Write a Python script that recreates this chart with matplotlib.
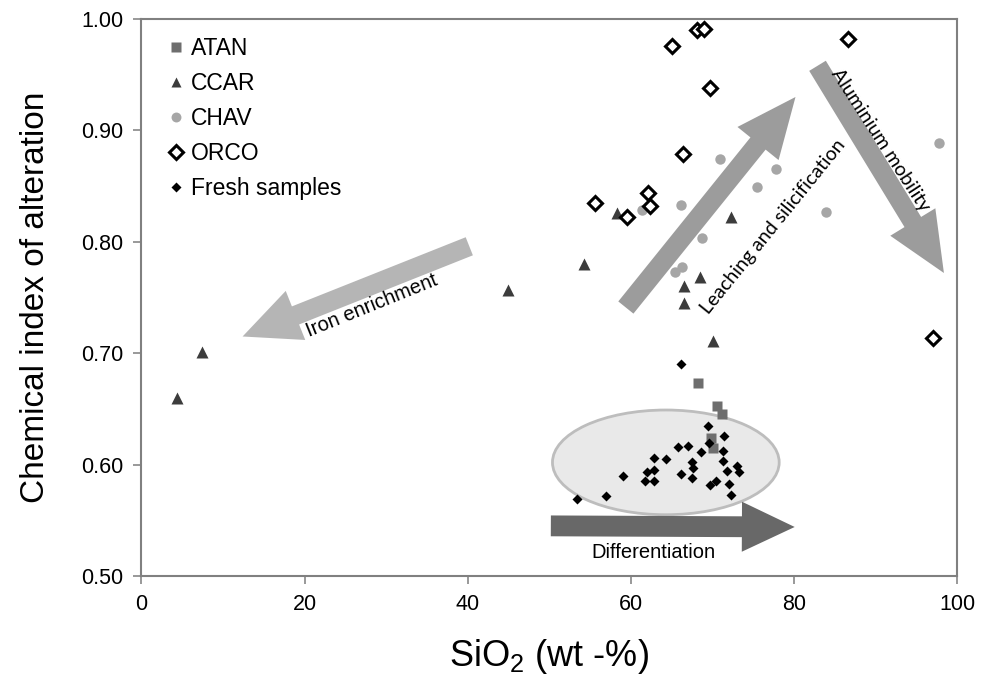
#!/usr/bin/env python3

import matplotlib
matplotlib.use("Agg")
import matplotlib.pyplot as plt
from matplotlib.patches import Ellipse

plt.rcParams["font.family"] = ["Liberation Sans", "DejaVu Sans"]
plt.rcParams["mathtext.fontset"] = "custom"
plt.rcParams["mathtext.rm"] = "Liberation Sans"
plt.rcParams["mathtext.default"] = "regular"

# Data (SiO2 wt-%, CIA)
atan_x = [68.3, 70.6, 71.2, 69.8, 70.1]
atan_y = [0.673, 0.653, 0.645, 0.624, 0.615]

ccar_x = [4.4, 7.4, 44.9, 54.3, 58.3, 66.5, 66.5, 68.5, 70.1, 72.3]
ccar_y = [0.660, 0.701, 0.757, 0.780, 0.826, 0.760, 0.745, 0.768, 0.711, 0.822]

chav_x = [61.4, 66.2, 70.9, 68.7, 65.4, 66.3, 77.8, 75.5, 84.0, 97.8]
chav_y = [0.829, 0.833, 0.874, 0.803, 0.773, 0.777, 0.865, 0.849, 0.827, 0.889]

orco_x = [55.6, 59.5, 62.1, 62.4, 66.4, 65.1, 68.1, 69.0, 69.7, 86.6, 97.1]
orco_y = [0.835, 0.822, 0.844, 0.832, 0.879, 0.976, 0.990, 0.991, 0.938, 0.982, 0.714]

fresh_x = [66.1, 69.5, 71.4, 69.6, 65.8, 67.0, 68.6, 71.3, 62.9, 64.3,
           71.3, 67.5, 67.6, 73.0, 62.0, 62.8, 59.1, 66.2, 71.8, 73.3,
           67.5, 61.8, 62.8, 70.4, 69.7, 72.1, 72.3, 57.0, 53.4]
fresh_y = [0.690, 0.635, 0.626, 0.619, 0.616, 0.617, 0.611, 0.612, 0.606, 0.605,
           0.603, 0.602, 0.597, 0.599, 0.593, 0.595, 0.590, 0.592, 0.594, 0.593,
           0.588, 0.585, 0.585, 0.585, 0.582, 0.583, 0.573, 0.572, 0.569]

fig = plt.figure(figsize=(9.81, 6.77), dpi=100)
ax = fig.add_axes([0.1442, 0.1492, 0.8313, 0.8227])

# fresh samples field
ax.add_patch(Ellipse((64.3, 0.602), 27.8, 0.094, facecolor="#e9e9e9",
                     edgecolor="#bdbdbd", linewidth=2, zorder=1))


def big_arrow(tail, tip, color, shaft=14.5, head_w=38, head_l=41):
    style = "simple,head_length=%.1f,head_width=%.1f,tail_width=%.1f" % (
        head_l / 10.0, head_w / 10.0, shaft / 10.0)
    ax.annotate("", xy=tip, xytext=tail,
                arrowprops=dict(arrowstyle=style, mutation_scale=10, fc=color,
                                ec="none", shrinkA=0, shrinkB=0), zorder=2)


big_arrow((40.2, 0.796), (12.4, 0.715), "#b5b5b5")
big_arrow((59.4, 0.741), (80.2, 0.930), "#9c9c9c", head_l=43)
big_arrow((82.9, 0.958), (98.4, 0.772), "#9c9c9c", head_l=43)
big_arrow((50.2, 0.545), (80.1, 0.544), "#686868", shaft=15, head_w=36, head_l=38)

ax.text(28.2, 0.743, "Iron enrichment", rotation=22, fontsize=14.5,
        ha="center", va="center", rotation_mode="anchor")
ax.text(77.5, 0.814, "Leaching and silicification", rotation=51, fontsize=14,
        family="Lato", ha="center", va="center", rotation_mode="anchor")
ax.text(90.6, 0.891, "Aluminium mobility", rotation=-57, fontsize=14,
        family="Lato", ha="center", va="center", rotation_mode="anchor")
ax.text(62.8, 0.521, "Differentiation", fontsize=14.5, ha="center", va="center")

ax.plot(atan_x, atan_y, ls="none", marker="s", ms=7, color="#6e6e6e",
        mec="none", label="ATAN", zorder=4)
ax.plot(ccar_x, ccar_y, ls="none", marker="^", ms=8, color="#3c3c3c",
        mec="none", label="CCAR", zorder=4)
ax.plot(chav_x, chav_y, ls="none", marker="o", ms=7.5, color="#a6a6a6",
        mec="none", label="CHAV", zorder=3)
ax.plot(orco_x, orco_y, ls="none", marker="D", ms=7.5, mfc="white", mec="black",
        mew=2.2, label="ORCO", zorder=4)
ax.plot(fresh_x, fresh_y, ls="none", marker="D", ms=5.5, color="black",
        mec="none", label="Fresh samples", zorder=5)

ax.set_xlim(0, 100)
ax.set_ylim(0.5, 1.0)
ax.set_xticks([0, 20, 40, 60, 80, 100])
ax.set_yticks([0.5, 0.6, 0.7, 0.8, 0.9, 1.0])
ax.set_yticklabels(["%.2f" % v for v in ax.get_yticks()])
ax.tick_params(labelsize=15.5, direction="out", length=6, width=1.2,
               color="#888888", pad=7)

for side in ["left", "bottom", "right", "top"]:
    ax.spines[side].set_color("#808080")
    ax.spines[side].set_linewidth(1.5)

ax.set_xlabel("SiO$_2$ (wt -%)", fontsize=26, labelpad=16)
ax.set_ylabel("Chemical index of alteration", fontsize=24, labelpad=22)

ax.legend(loc="upper left", bbox_to_anchor=(0.02, 0.985), frameon=False,
          fontsize=16.5, handlelength=0.8, handletextpad=0.25, labelspacing=0.53,
          borderaxespad=0, markerscale=0.95)

plt.savefig("out.png", dpi=100)
plt.close()
